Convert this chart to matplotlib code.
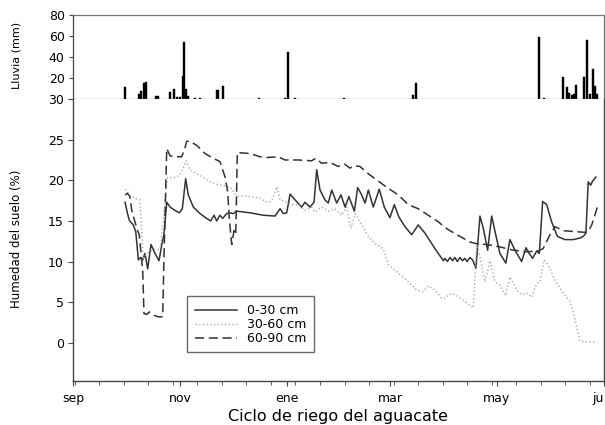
import numpy as np
import matplotlib.pyplot as plt
from matplotlib.ticker import FixedLocator

plt.rcParams['font.family'] = ['DejaVu Sans']

# Días desde el 1 de septiembre
# Lluvia (mm)
lluvia_dia = [29.7, 37.5, 38.6, 40.5, 41.7, 47.4, 48.5, 55.5, 57.6, 59.4, 61.1, 62.6, 63.5,
              64.7, 65.6, 69.6, 72.5, 82.0, 82.8, 85.4, 106.2, 121.0, 122.5, 126.7, 154.9,
              193.9, 196.0, 265.8, 268.8, 279.9, 281.8, 282.9, 284.6, 286.0, 287.1, 291.7,
              293.2, 295.1, 296.8, 297.8, 299.1]
lluvia_mm = [11.7, 5, 8, 15, 16, 3, 3, 7, 10, 2, 1.5, 22, 54,
             10, 3, 1, 1, 9, 9, 12, 1, 1, 45, 1, 0.5,
             4, 15, 59, 1, 21, 11, 6, 4, 5, 13, 21,
             56, 5, 29, 12, 5]

# Humedad 0-30 cm
dia_0_30 = [29.7, 31, 32.1, 34.4, 35.8, 37.3, 38.6, 39.8, 41.1, 42.6, 44.5, 46.8, 49.1, 50.6,
            51.9, 53.5, 55.4, 58.2, 60.7, 62.4, 64.3, 65.8, 68.7, 72.5, 76.3, 78.6, 80.5, 82,
            83.9, 85.4, 87.7, 89.6, 91.5, 93.4, 101, 108.6, 115.3, 118.2, 120, 122, 123.9,
            126.7, 130.5, 132.4, 135.3, 137.6, 139.1, 141, 143.8, 145.7, 147.7, 150.5, 153,
            155.3, 157.5, 160.6, 162.5, 164.8, 166.7, 168.6, 171.4, 174.8, 177.7, 180.9,
            183.4, 186, 189.5, 193.3, 197.1, 200.9, 206.6, 211.4, 212.3, 213.7, 215.2, 216.7,
            218, 219.4, 220.9, 222.4, 223.7, 225, 226.6, 228.1, 230, 232.3, 234.2, 236.7,
            239, 240.9, 243.7, 247.1, 249.4, 252.3, 256.1, 258.6, 260.4, 262.4, 264.7, 266.2,
            268.1, 270.4, 273.2, 276.5, 280.8, 285.6, 289.4, 291.3, 292.8, 294.1, 295.5,
            296.6, 298.5]
hum_0_30 = [17.3, 16.0, 15.1, 14.5, 13.7, 10.2, 10.5, 10.2, 11.0, 9.1, 12.1, 11.0, 10.1, 12.0,
            13.3, 17.3, 16.7, 16.3, 16.0, 16.5, 20.2, 18.2, 16.7, 15.9, 15.3, 15.0, 15.7, 15.0,
            15.7, 15.3, 15.9, 16.0, 15.9, 16.2, 16.0, 15.7, 15.6, 16.5, 15.9, 16.0, 18.3,
            17.6, 16.7, 17.3, 16.7, 17.3, 21.3, 18.8, 17.6, 17.2, 18.8, 17.2, 18.2,
            16.7, 18.0, 16.2, 19.1, 18.2, 17.2, 18.8, 16.7, 18.9, 16.7, 15.4,
            17.0, 15.5, 14.3, 13.3, 14.5, 13.5, 11.6, 10.1, 10.4, 10.0, 10.5, 10.1,
            10.5, 10.0, 10.5, 10.1, 10.4, 10.0, 10.5, 10.2, 9.2, 15.6, 14.1, 11.4,
            15.6, 13.7, 11.0, 9.8, 12.7, 11.4, 10.0, 11.7, 11.0, 10.4, 11.3, 11.0,
            17.4, 17.0, 14.9, 13.1, 12.7, 12.7, 12.9, 13.1, 13.5, 19.8, 19.4,
            19.9, 20.4]

# Humedad 30-60 cm
dia_30_60 = [29.7, 31, 32.5, 36.4, 38.2, 39.2, 40.1, 42.1, 45.8, 49.7, 52.5, 53.8, 57.2, 61,
             63, 64.5, 66.8, 72.5, 78.2, 83.9, 89.6, 93.4, 101, 106.7, 110.5, 113.4, 116.3,
             118.2, 121, 124.8, 128.6, 132.4, 136.2, 138.1, 141.9, 145.7, 149.5, 153.4, 156.2,
             158.7, 161, 164.8, 168.6, 172.4, 177.1, 180, 185.7, 191.4, 196.1, 199.9, 202.8,
             206.6, 210.4, 212.3, 216.1, 219.9, 224.7, 228.5, 230.4, 232.3, 235.2, 238, 240.9,
             243.7, 247, 249.4, 253.3, 256.1, 259.3, 261.8, 264.7, 266.6, 268.9, 271.3, 275.1,
             279.9, 283.7, 286.5, 289.4, 293.2, 297.9]
hum_30_60 = [18.9, 18.7, 18.1, 17.7, 17.6, 13.7, 10.4, 11.0, 11.5, 11.5, 17.0, 20.3, 20.3, 20.6,
             21.5, 22.4, 21.3, 20.6, 19.8, 19.4, 19.2, 18.1, 18.0, 17.8, 17.3, 17.4, 19.2,
             17.6, 17.4, 17.0, 17.0, 16.3, 16.7, 16.1, 16.7, 16.2, 16.5, 15.7, 16.7,
             14.1, 15.9, 14.5, 13.1, 12.2, 11.6, 9.6, 8.6, 7.5, 6.5, 6.3, 7.0,
             6.5, 5.5, 5.5, 6.1, 5.7, 4.9, 4.3, 12.0, 10.6, 7.5, 10.1, 7.5,
             7.1, 5.8, 8.1, 6.5, 5.9, 6.1, 5.6, 7.3, 7.5, 10.2, 9.6, 7.7,
             6.1, 5.1, 3.0, 0.2, 0.1, 0.1]

# Humedad 60-90 cm
dia_60_90 = [29.7, 31, 32.5, 33.5, 36.4, 37.8, 39.8, 40.5, 42.1, 43.6, 45.8, 48.7, 51.2, 51.9,
             53.5, 55.4, 59.2, 62, 63.5, 64.9, 66.8, 70.6, 75.3, 80.1, 83.9, 86.8, 88.3, 89.2,
             90.6, 91.9, 92.9, 93.8, 101, 106.7, 110.5, 117.2, 121, 128.6, 136.2, 138.5,
             141.9, 146.7, 151.4, 154.9, 158.1, 160.6, 163.8, 168.6, 174.3, 180, 185.7, 191.4,
             197.1, 202.8, 208.5, 212.3, 215.2, 220.9, 226.6, 230.4, 236.1, 243.7, 251.3,
             258.9, 265.6, 268.4, 272.3, 275.1, 279.9, 285.6, 292.2, 294.1, 296.1, 297.9, 299.3]
hum_60_90 = [18.2, 18.4, 18.0, 16.3, 14.1, 13.3, 8.8, 3.6, 3.5, 3.8, 3.4, 3.2, 3.2, 10.4,
             23.9, 23.0, 22.9, 22.9, 23.7, 24.8, 24.8, 24.3, 23.3, 22.7, 22.3, 20.4, 18.6, 15.3,
             12.1, 13.8, 13.3, 23.4, 23.3, 22.9, 22.8, 22.9, 22.5, 22.5, 22.4, 22.7,
             22.1, 22.2, 21.7, 22.0, 21.5, 21.8, 21.7, 20.8, 19.9, 19.0, 18.2, 17.0,
             16.5, 15.7, 14.9, 14.2, 13.8, 13.1, 12.4, 12.2, 12.1, 11.8, 11.4,
             11.2, 11.3, 11.6, 13.3, 14.3, 13.8, 13.7, 13.6, 13.7, 14.5, 15.7, 16.7]

# Meses en el eje x
mes_dia = [0, 61, 122, 181, 242, 303]
mes_nombre = ['sep', 'nov', 'ene', 'mar', 'may', 'ju']

fig = plt.figure(figsize=(6.05, 4.25), dpi=100)
ax1 = fig.add_axes([0.1207, 0.767, 0.8773, 0.1977])
ax2 = fig.add_axes([0.1207, 0.1035, 0.8773, 0.6635])

spine_col = '#444444'

# Panel de lluvia
ax1.bar(lluvia_dia, lluvia_mm, width=1.1, color='black', edgecolor='black', linewidth=0.3)
ax1.set_xlim(0, 303)
ax1.set_ylim(0, 80)
ax1.set_yticks([20, 40, 60, 80])
ax1.set_xticks([])
ax1.tick_params(axis='y', labelsize=9, length=3, color=spine_col, pad=3)
for s in ax1.spines.values():
    s.set_color('#777777')
    s.set_linewidth(0.9)
ax1.spines['left'].set_color(spine_col)

# Panel de humedad
ax2.plot(dia_0_30, hum_0_30, color='#333333', lw=1.1, label='0-30 cm')
ax2.plot(dia_30_60, hum_30_60, color='#aaaaaa', lw=1.0, ls=':', label='30-60 cm')
ax2.plot(dia_60_90, hum_60_90, color='#333333', lw=1.1, ls=(0, (6, 3)), label='60-90 cm')
ax2.set_xlim(0, 303)
ax2.set_ylim(-4.7, 30)
ax2.set_yticks([0, 5, 10, 15, 20, 25, 30])
ax2.set_xticks(mes_dia)
ax2.set_xticklabels(mes_nombre)
ax2.get_xticklabels()[-1].set_ha('right')
ax2.xaxis.set_minor_locator(FixedLocator(np.arange(1, 303, 14)))
ax2.tick_params(axis='both', which='major', labelsize=9, length=3.5, color=spine_col, pad=3)
ax2.tick_params(axis='x', which='minor', length=3, color=spine_col)
ax2.tick_params(axis='x', which='major', pad=4.5)
ax2.spines['top'].set_visible(False)
for s in ['left', 'bottom', 'right']:
    ax2.spines[s].set_color(spine_col)
    ax2.spines[s].set_linewidth(1.0)

leg = ax2.legend(loc='upper left', bbox_to_anchor=(0.215, 0.30), borderaxespad=0, fontsize=9,
                 frameon=True, fancybox=False, handlelength=3.4, borderpad=0.6,
                 labelspacing=0.08, handletextpad=0.8)
leg.get_frame().set_edgecolor('#444444')
leg.get_frame().set_linewidth(1.0)

fig.text(0.028, 0.87, 'Lluvia (mm)', rotation=90, ha='center', va='center', fontsize=8)
fig.text(0.028, 0.437, 'Humedad del suelo (%)', rotation=90, ha='center', va='center', fontsize=8.5)
fig.text(0.559, 0.021, 'Ciclo de riego del aguacate', ha='center', va='center', fontsize=11.5)

plt.savefig('out.png', dpi=100)
